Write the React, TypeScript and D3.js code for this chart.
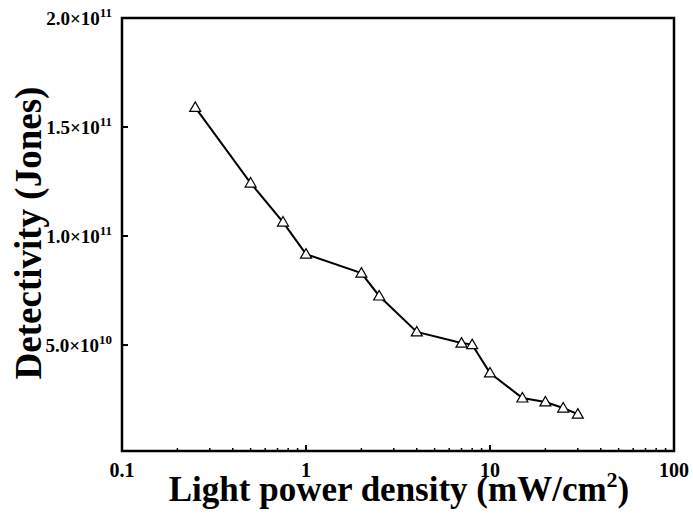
import * as d3 from "d3";
import React, {useEffect, useRef} from "react";

// light power density (mW/cm2) and detectivity (Jones)
const powerDensity = [0.25, 0.5, 0.75, 1, 2, 2.5, 4, 7, 8, 10, 15, 20, 25, 30];
const detectivity = [1.59e11, 1.243e11, 1.064e11, 0.917e11, 0.83e11, 0.725e11, 0.56e11,
  0.509e11, 0.502e11, 0.372e11, 0.257e11, 0.239e11, 0.211e11, 0.183e11];
const xTicks = [0.1, 1, 10, 100];
const yTicks = [5.0e10, 1.0e11, 1.5e11, 2.0e11];

const width = 693;
const height = 517;
const margin = {top: 18, right: 19, bottom: 66, left: 122};
const font = "'Liberation Serif', 'Times New Roman', serif";

const App: React.FC = () => {
  const ref = useRef<SVGSVGElement | null>(null);

  useEffect(() => {
    const svg = d3.select(ref.current);
    svg.selectAll('*').remove();

    const x = d3.scaleLog()
      .domain([0.1, 100])
      .range([margin.left, width - margin.right]);
    const y = d3.scaleLinear()
      .domain([1.4e9, 2.0e11])
      .range([height - margin.bottom, margin.top]);

    const x0 = margin.left, x1 = width - margin.right;
    const y0 = height - margin.bottom, y1 = margin.top;

    // frame
    svg.append('rect')
      .attr('x', x0).attr('y', y1)
      .attr('width', x1 - x0).attr('height', y0 - y1)
      .attr('fill', 'none').attr('stroke', 'black').attr('stroke-width', 2.5);

    // x ticks, major and minor, pointing inward
    const minor: number[] = [];
    for (let e = -1; e < 2; e++) {
      for (let m = 2; m < 10; m++) minor.push(m * Math.pow(10, e));
    }
    svg.append('g').selectAll('line.minor').data(minor).enter().append('line')
      .attr('x1', d => x(d)).attr('x2', d => x(d))
      .attr('y1', y0).attr('y2', y0 - 3)
      .attr('stroke', 'black').attr('stroke-width', 1.5);
    svg.append('g').selectAll('line.major').data(xTicks).enter().append('line')
      .attr('x1', d => x(d)).attr('x2', d => x(d))
      .attr('y1', y0).attr('y2', y0 - 6)
      .attr('stroke', 'black').attr('stroke-width', 2);
    svg.append('g').selectAll('text').data(xTicks).enter().append('text')
      .attr('x', d => x(d))
      .attr('y', 477)
      .attr('text-anchor', 'middle')
      .style('font-family', font).style('font-weight', 'bold').style('font-size', '20px')
      .text(d => String(d));

    // y ticks
    svg.append('g').selectAll('line').data(yTicks).enter().append('line')
      .attr('x1', x0).attr('x2', x0 + 6)
      .attr('y1', d => y(d)).attr('y2', d => y(d))
      .attr('stroke', 'black').attr('stroke-width', 2);
    const yLabels = svg.append('g').selectAll('text').data(yTicks).enter().append('text')
      .attr('x', 112)
      .attr('y', d => y(d) + 7)
      .attr('text-anchor', 'end')
      .style('font-family', font).style('font-weight', 'bold').style('font-size', '19px');
    yLabels.append('tspan').text(d => {
      const exp = Math.floor(Math.log10(d));
      return (d / Math.pow(10, exp)).toFixed(1) + '\u00d710';
    });
    yLabels.append('tspan')
      .attr('dy', -8)
      .style('font-size', '13px')
      .text(d => String(Math.floor(Math.log10(d))));

    // line and markers
    const pts = powerDensity.map((p, i) => [x(p), y(detectivity[i])] as [number, number]);
    svg.append('path')
      .attr('d', d3.line()(pts))
      .attr('fill', 'none').attr('stroke', 'black').attr('stroke-width', 2);
    svg.append('g').selectAll('path').data(pts).enter().append('path')
      .attr('transform', d => `translate(${d[0]}, ${d[1]})`)
      .attr('d', 'M0,-5.5L5.5,4L-5.5,4Z')
      .attr('fill', 'white').attr('stroke', 'black').attr('stroke-width', 1.2);

    // axis titles
    const xt = svg.append('text')
      .attr('x', 399)
      .attr('y', 501)
      .attr('text-anchor', 'middle')
      .style('font-family', font).style('font-weight', 'bold').style('font-size', '35px');
    xt.append('tspan').text('Light power density (mW/cm');
    xt.append('tspan').attr('dy', -14).style('font-size', '22px').text('2');
    xt.append('tspan').attr('dy', 14).text(')');

    svg.append('text')
      .attr('transform', `translate(41, 233) rotate(-90)`)
      .attr('text-anchor', 'middle')
      .style('font-family', font).style('font-weight', 'bold').style('font-size', '37px')
      .text('Detectivity (Jones)');

    return () => {
      svg.selectAll('*').remove();
    };
  }, []);

  return <svg ref={ref} width={width} height={height}
    style={{position: 'absolute', left: 0, top: 0, background: 'white'}} />;
};

export default App;
